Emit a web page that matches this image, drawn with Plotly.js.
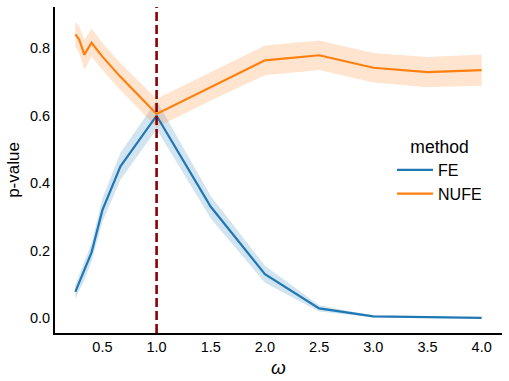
<!DOCTYPE html>
<html>
<head>
<meta charset="utf-8">
<script src="https://cdn.plot.ly/plotly-3.0.1.min.js"></script>
<style>html,body{margin:0;padding:0;background:#fff;}#chart{width:509px;height:381px;}</style>
</head>
<body>
<div id="chart"></div>
<script>
const omega   = [0.25, 0.2857, 0.3333, 0.4, 0.5, 0.6667, 1.0, 1.5, 2.0, 2.5, 3.0, 3.5, 4.0];
const fe      = [0.078, 0.105, 0.14, 0.195, 0.32, 0.45, 0.60, 0.33, 0.13, 0.029, 0.005, 0.002, 0.001];
const feLo    = [0.058, 0.082, 0.112, 0.168, 0.285, 0.41, 0.56, 0.295, 0.105, 0.02, 0.003, 0.001, 0.0005];
const feHi    = [0.098, 0.128, 0.168, 0.222, 0.355, 0.49, 0.645, 0.362, 0.155, 0.038, 0.007, 0.003, 0.0015];
const nufe    = [0.841, 0.826, 0.781, 0.816, 0.775, 0.715, 0.605, 0.685, 0.764, 0.779, 0.742, 0.729, 0.735];
const nufeLo  = [0.805, 0.785, 0.735, 0.775, 0.735, 0.675, 0.565, 0.645, 0.72, 0.735, 0.698, 0.684, 0.689];
const nufeHi  = [0.878, 0.865, 0.825, 0.858, 0.815, 0.755, 0.65, 0.728, 0.808, 0.823, 0.786, 0.774, 0.781];
const seriesNames = ["FE", "NUFE"];
const xTicks = [0.5, 1.0, 1.5, 2.0, 2.5, 3.0, 3.5, 4.0];
const yTicks = [0.0, 0.2, 0.4, 0.6, 0.8];
const refOmega = 1.0;

const blue = "#1f77b4", orange = "#ff7f0e";
function band(lo, hi, color) {
  return {
    x: omega.concat(omega.slice().reverse()),
    y: hi.concat(lo.slice().reverse()),
    type: "scatter", mode: "lines", fill: "toself",
    fillcolor: color, line: {width: 0}, opacity: 0.2,
    showlegend: false, hoverinfo: "skip"
  };
}
const traces = [
  band(feLo, feHi, blue),
  band(nufeLo, nufeHi, orange),
  {x: omega, y: fe, type: "scatter", mode: "lines", name: seriesNames[0], line: {color: blue, width: 2.2}},
  {x: omega, y: nufe, type: "scatter", mode: "lines", name: seriesNames[1], line: {color: orange, width: 2.2}}
];
const font = {family: "Liberation Sans, Arial, sans-serif", color: "#000"};
const layout = {
  width: 509, height: 381,
  margin: {l: 55, r: 7, t: 7, b: 48},
  paper_bgcolor: "#fff", plot_bgcolor: "#fff",
  font: Object.assign({size: 14.5}, font),
  showlegend: true,
  legend: {
    title: {text: "method", font: {size: 17.5}, side: "top center"},
    x: 0.754, y: 0.622, xanchor: "left", yanchor: "top",
    itemwidth: 36,
    font: {size: 16}, bgcolor: "rgba(0,0,0,0)", tracegroupgap: 0
  },
  xaxis: {
    range: [0.0625, 4.1875], tickvals: xTicks, ticktext: xTicks.map(v => v.toFixed(1)),
    showgrid: false, zeroline: false, showline: true, linecolor: "#000", linewidth: 2,
    ticks: "", tickfont: {size: 14.5},
    title: {text: "<i>ω</i>", font: {size: 19}, standoff: 6}
  },
  yaxis: {
    range: [-0.044, 0.922], tickvals: yTicks, ticktext: yTicks.map(v => v.toFixed(1)),
    showgrid: false, zeroline: false, showline: true, linecolor: "#000", linewidth: 2,
    ticks: "", tickfont: {size: 14.5},
    title: {text: "p-value", font: {size: 17}, standoff: 6}
  },
  shapes: [{
    type: "line", xref: "x", yref: "paper", x0: refOmega, x1: refOmega, y0: 0, y1: 1,
    line: {color: "#8b0000", width: 2.6, dash: "9px,4px"}
  }]
};
Plotly.newPlot("chart", traces, layout, {displayModeBar: false, staticPlot: true});
</script>
</body>
</html>
